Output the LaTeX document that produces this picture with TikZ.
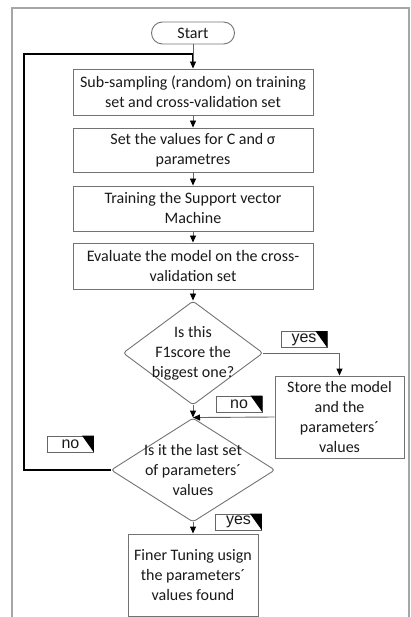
\documentclass[tikz,border=0pt]{standalone}
\usepackage{fontspec}
\setmainfont{Carlito}
\newfontfamily\tagfont{Liberation Sans}
\usetikzlibrary{shapes.geometric,arrows.meta}
\def\flag#1{\fill (#1.north east) -- ++(-12,0) -- (#1.south east) -- cycle;}

\begin{document}
\begin{tikzpicture}[x=1pt,y=-1pt,
    font=\fontsize{16}{20}\selectfont,
    every node/.style={text=black!90},
    stepbox/.style={draw=black!55,line width=0.9pt,minimum width=240,minimum height=46,align=center,inner sep=2},
    termbox/.style={draw=black!55,line width=0.9pt,rounded corners=11,minimum width=83,minimum height=22,inner sep=0},
    decision/.style={draw=black!55,line width=0.9pt,diamond,rounded corners=3,inner sep=0},
    tag/.style={draw=black!60,line width=0.9pt,font=\tagfont\fontsize{16}{16}\selectfont,minimum width=46,minimum height=16,inner sep=0},
    flow/.style={draw=black!60,line width=0.9pt,-{Triangle[width=6,length=7,color=black]}},
    back/.style={draw=black,line width=1.6pt},
    frame/.style={draw=black!35,line width=1.5pt}]
    \useasboundingbox (0,0) rectangle (410,617);
    \draw[frame] (12,617) -- (12,8) -- (409,8) -- (409,617);

    \node[termbox] (start) at (193,33) {Start};
    \node[stepbox] (sample) at (193,92) {Sub-sampling (random) on training\\set and cross-validation set};
    \node[stepbox,minimum height=44] (setval) at (193,150) {Set the values for C and σ\\parametres};
    \node[stepbox,minimum height=45] (train) at (193,208.5) {Training the Support vector\\Machine};
    \node[stepbox] (eval) at (193,266) {Evaluate the model on the cross-\\validation set};
    \node[decision,minimum width=140,minimum height=104] (best) at (193,353) {};
    \node[align=center] (besttext) at (best) {Is this\\F1score the\\biggest one?};
    \node[stepbox,minimum width=129,minimum height=82] (store) at (339.5,417) {Store the model\\and the\\parameters´\\values};
    \node[decision,minimum width=164,minimum height=104] (last) at (193,470) {};
    \node[align=center] (lasttext) at (last) {Is it the last set\\of parameters´\\values};
    \node[stepbox,minimum width=130,minimum height=82] (finer) at (193,575) {Finer Tuning usign\\the parameters´\\values found};

    \node[tag] (yesA) at (304,339.5) {yes};
    \node[tag] (noA) at (239,404) {no};
    \node[tag] (noB) at (70.5,444) {no};
    \node[tag] (yesB) at (238.5,522) {yes};
    \flag{yesA} \flag{noA} \flag{noB} \flag{yesB}

    \coordinate (corner) at (24,54);
    \draw[back] (last.west) -| (corner) -- (corner -| sample.north) -- ++(0,8);
    \draw[flow] (start) -- (sample);
    \draw[flow] (sample) -- (setval);
    \draw[flow] (setval) -- (train);
    \draw[flow] (train) -- (eval);
    \draw[flow] (eval) -- (best);
    \draw[flow] (best.east) -| (store.north);
    \draw[flow] (best.south) -- (last.north);
    \draw[flow] (store.west) -- (last.north);
    \draw[flow] (last.south) -- (finer.north);
\end{tikzpicture}
\end{document}
